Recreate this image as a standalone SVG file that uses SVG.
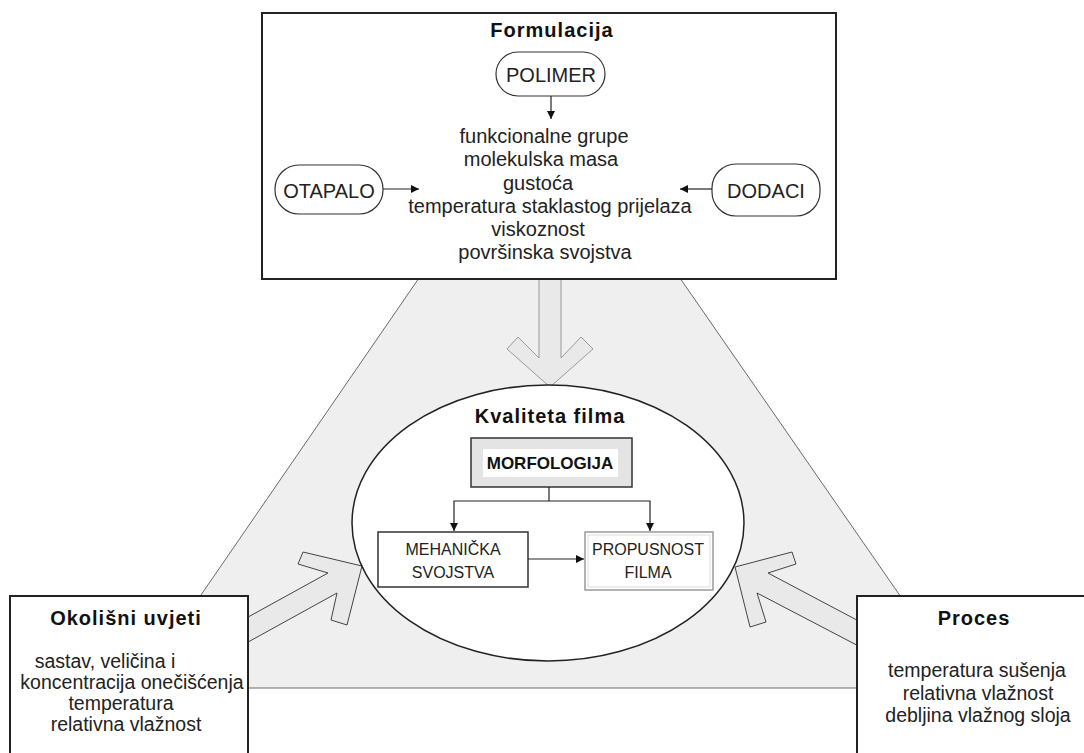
<svg xmlns="http://www.w3.org/2000/svg" width="1084" height="753" viewBox="0 0 1084 753">
<defs>
<marker id="ah" viewBox="0 0 10 10" refX="10" refY="5" markerWidth="8" markerHeight="8" markerUnits="userSpaceOnUse" orient="auto">
<path d="M0,0 L10,5 L0,10 z" fill="#111"/>
</marker>
<style>
text{font-family:"Liberation Sans",Arial,sans-serif;fill:#222;text-anchor:middle}
.h{font-weight:bold;font-size:20px;letter-spacing:1px;fill:#111}
.t{font-size:20px}
.s{font-size:19.5px}
.p{font-size:20px}
.b{font-size:16px}
.box{fill:#fff;stroke:#222;stroke-width:2}
.pill{fill:#fff;stroke:#333;stroke-width:1.2}
.con{stroke:#222;stroke-width:1.2;fill:none}
.blk{fill:#e9e9e9;stroke:#444;stroke-width:1}
</style>
</defs>
<g id="background">
<polygon points="549,89 137,688 964,688" fill="#efefef" stroke="#6a6a6a" stroke-width="1"/>
</g>
<g id="flow-arrows">
<polygon class="blk" style="stroke:#999" points="539,279 561,279 561,358 581,337 593,349 550,387 507,349 518,337 539,358"/>
<polygon class="blk" points="230,627 328,573 298,564 303,552 362,566 347,625 331,620 337,593 230,652"/>
<polygon class="blk" points="870,627 768,573 796,564 792,552 735,567 750,627 766,622 757,593 870,652"/>
</g>
<g id="kvaliteta">
<ellipse cx="548" cy="523" rx="196" ry="138" fill="#fff" stroke="#222" stroke-width="1.5"/>
<text class="h" x="550" y="423">Kvaliteta filma</text>
</g>
<g id="morfologija">
<rect x="471" y="438" width="161" height="49" fill="#e4e4e4" stroke="#333" stroke-width="1.5"/>
<rect x="483" y="449" width="135" height="28" fill="#fff"/>
<text x="550" y="469" style="font-weight:bold;font-size:17px;fill:#111">MORFOLOGIJA</text>
</g>
<g id="mehanicka">
<rect x="378" y="532" width="150" height="55" fill="#fff" stroke="#333" stroke-width="1.5"/>
<text class="b" x="453" y="555">MEHANIČKA</text>
<text class="b" x="453" y="578">SVOJSTVA</text>
</g>
<g id="propusnost">
<rect x="585" y="532" width="128" height="58" fill="#fff" stroke="#999" stroke-width="1.5"/>
<rect x="588" y="535" width="122" height="52" fill="none" stroke="#ddd" stroke-width="1"/>
<text class="b" x="648" y="555">PROPUSNOST</text>
<text class="b" x="648" y="578">FILMA</text>
</g>
<g id="formulacija">
<rect class="box" x="262" y="13" width="574" height="266"/>
<text class="h" x="552" y="37">Formulacija</text>
<text class="t" x="544" y="143">funkcionalne grupe</text>
<text class="t" x="541" y="166">molekulska masa</text>
<text class="t" x="538" y="190">gustoća</text>
<text class="t" x="550" y="213">temperatura staklastog prijelaza</text>
<text class="t" x="538" y="236">viskoznost</text>
<text class="t" x="545" y="259">površinska svojstva</text>
</g>
<g id="polimer">
<rect class="pill" x="496" y="52" width="109" height="44" rx="22"/>
<text class="p" x="551" y="82">POLIMER</text>
</g>
<g id="otapalo">
<rect class="pill" x="275" y="165" width="108" height="49" rx="24"/>
<text class="p" x="329" y="198">OTAPALO</text>
</g>
<g id="dodaci">
<rect class="pill" x="712" y="164" width="108" height="52" rx="24"/>
<text class="p" x="766" y="198">DODACI</text>
</g>
<g id="okolisni">
<rect class="box" x="10" y="596" width="238" height="180"/>
<text class="h" x="126" y="625">Okolišni uvjeti</text>
<text class="s" x="105" y="668">sastav, veličina i</text>
<text class="s" x="132" y="689">koncentracija onečišćenja</text>
<text class="s" x="121" y="710">temperatura</text>
<text class="s" x="126" y="731">relativna vlažnost</text>
</g>
<g id="proces">
<rect class="box" x="857" y="596" width="240" height="180"/>
<text class="h" x="974" y="625">Proces</text>
<text class="s" x="977" y="677">temperatura sušenja</text>
<text class="s" x="978" y="700">relativna vlažnost</text>
<text class="s" x="978" y="722">debljina vlažnog sloja</text>
</g>
<g id="connectors">
<line class="con" x1="551" y1="96" x2="551" y2="119" marker-end="url(#ah)"/>
<line class="con" x1="383" y1="189" x2="419" y2="189" marker-end="url(#ah)"/>
<line class="con" x1="712" y1="189" x2="680" y2="189" marker-end="url(#ah)"/>
<polyline class="con" points="549,487 549,501"/>
<polyline class="con" points="549,501 454,501 454,531" marker-end="url(#ah)"/>
<polyline class="con" points="549,501 650,501 650,531" marker-end="url(#ah)"/>
<line class="con" x1="528" y1="559" x2="584" y2="559" marker-end="url(#ah)"/>
</g>
</svg>
